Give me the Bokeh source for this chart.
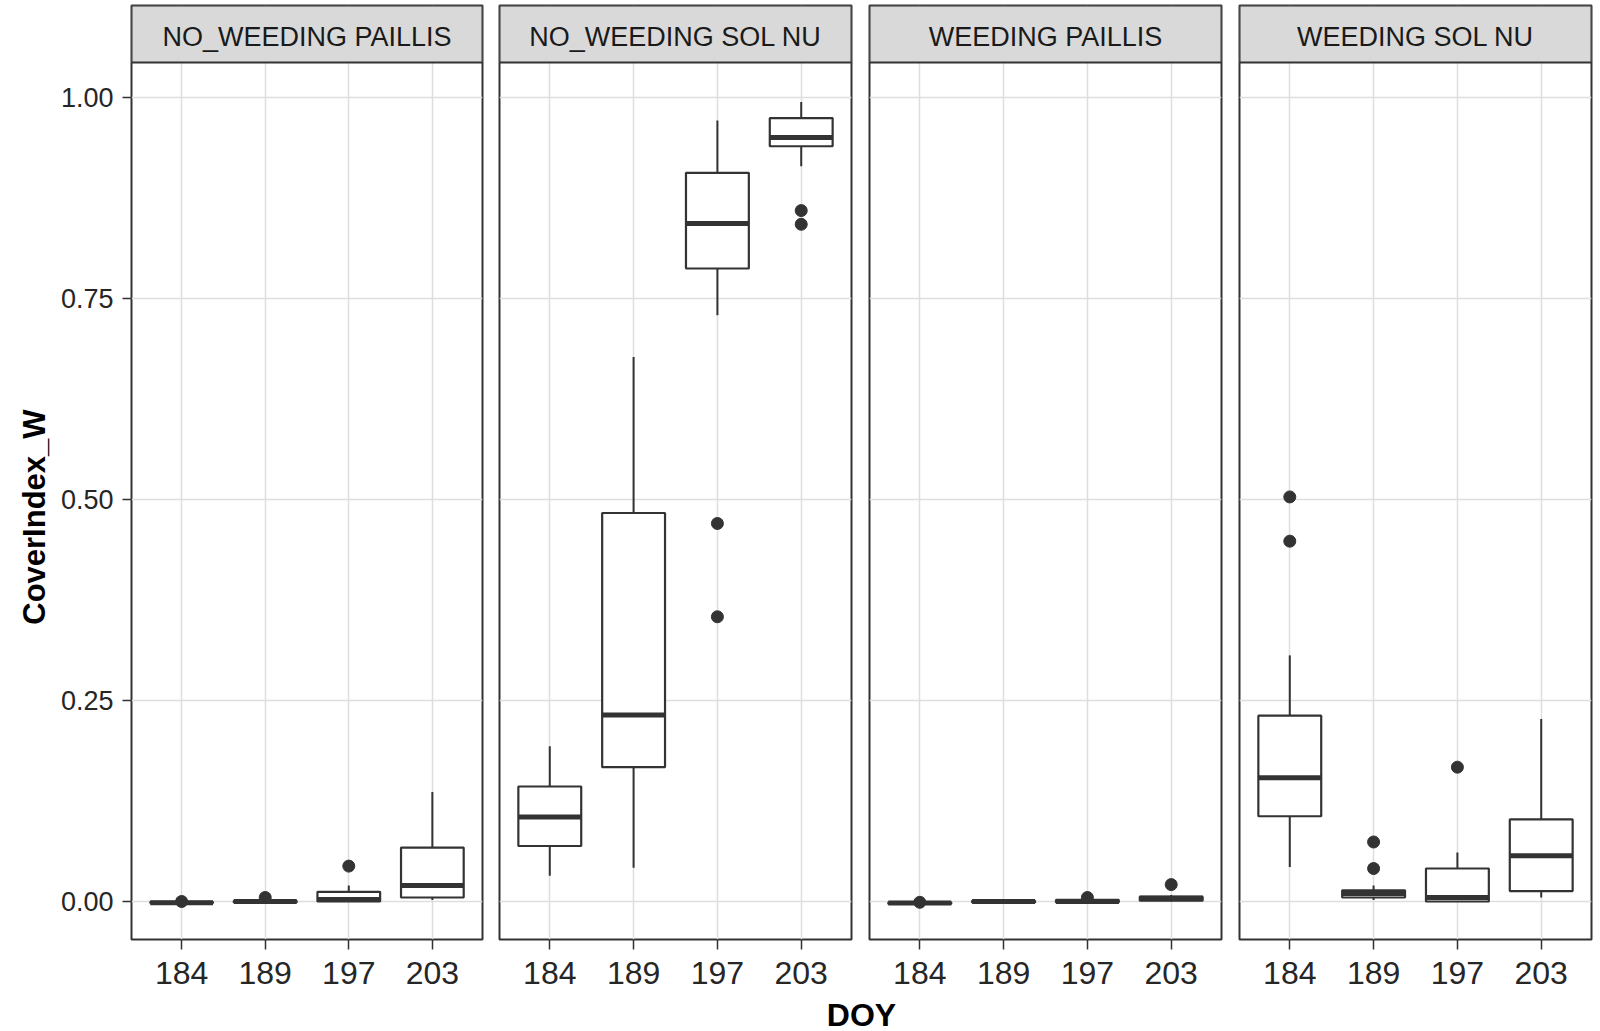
import numpy as np
from bokeh.plotting import figure
from bokeh.models import FactorRange, Range1d, FixedTicker, BoxAnnotation, ColumnDataSource, Label
from bokeh.transform import dodge
from bokeh.layouts import row, column
from bokeh.embed import file_html
from bokeh.resources import INLINE
from bokeh.core.properties import value

# ---------------- data ----------------
DOY = ["184", "189", "197", "203"]
PANELS = ["NO_WEEDING PAILLIS", "NO_WEEDING SOL NU", "WEEDING PAILLIS", "WEEDING SOL NU"]
Y_TICKS = [0.0, 0.25, 0.5, 0.75, 1.0]
Y_TICK_LABELS = ["0.00", "0.25", "0.50", "0.75", "1.00"]
Y_TITLE = "CoverIndex_W"
X_TITLE = "DOY"

# NO_WEEDING PAILLIS
nwp_lower = [-0.003, -0.002, 0.000, 0.002]
nwp_q1 = [-0.002, -0.001, 0.000, 0.005]
nwp_median = [-0.0015, 0.000, 0.0025, 0.020]
nwp_q3 = [-0.0005, 0.001, 0.012, 0.067]
nwp_upper = [0.000, 0.002, 0.020, 0.136]
nwp_outliers = [[0.000], [0.005], [0.044], []]

# NO_WEEDING SOL NU
nws_lower = [0.032, 0.042, 0.729, 0.914]
nws_q1 = [0.069, 0.167, 0.787, 0.939]
nws_median = [0.105, 0.232, 0.843, 0.950]
nws_q3 = [0.143, 0.483, 0.906, 0.974]
nws_upper = [0.193, 0.677, 0.971, 0.994]
nws_outliers = [[], [], [0.470, 0.354], [0.859, 0.842]]

# WEEDING PAILLIS
wp_lower = [-0.003, -0.002, -0.001, 0.000]
wp_q1 = [-0.003, -0.001, -0.001, 0.001]
wp_median = [-0.002, 0.000, 0.000, 0.004]
wp_q3 = [-0.001, 0.001, 0.002, 0.006]
wp_upper = [-0.001, 0.001, 0.003, 0.008]
wp_outliers = [[-0.001], [], [0.005], [0.021]]

# WEEDING SOL NU
ws_lower = [0.043, 0.002, 0.000, 0.005]
ws_q1 = [0.106, 0.005, 0.000, 0.013]
ws_median = [0.154, 0.010, 0.005, 0.057]
ws_q3 = [0.231, 0.014, 0.041, 0.102]
ws_upper = [0.306, 0.020, 0.061, 0.227]
ws_outliers = [[0.503, 0.448], [0.074, 0.041], [0.167], []]

PANEL_DATA = [
    (nwp_lower, nwp_q1, nwp_median, nwp_q3, nwp_upper, nwp_outliers),
    (nws_lower, nws_q1, nws_median, nws_q3, nws_upper, nws_outliers),
    (wp_lower, wp_q1, wp_median, wp_q3, wp_upper, wp_outliers),
    (ws_lower, ws_q1, ws_median, ws_q3, ws_upper, ws_outliers),
]

# ---------------- style / layout ----------------
FONT = "Liberation Sans"
LINE = "#333333"
GRID = "#DEDEDE"
Y0, Y1 = -0.04725, 1.11401          # frame includes strip area
STRIP_BOTTOM = 1.0430
STRIP_TEXT_Y = 1.0751
TOP_H = 995
WIDTHS = [439, 369, 370, 370]
LEFTS = [79, 8, 9, 9]

figs = []
for i, (name, (lo, q1, med, q3, up, outs)) in enumerate(zip(PANELS, PANEL_DATA)):
    p = figure(width=WIDTHS[i], height=TOP_H,
               x_range=FactorRange(factors=DOY, range_padding=0.05),
               y_range=Range1d(Y0, Y1),
               output_backend="svg", toolbar_location=None,
               y_axis_location="left" if i == 0 else None,
               min_border_left=LEFTS[i], min_border_right=9,
               min_border_top=5, min_border_bottom=56)
    p.background_fill_color = "white"
    p.border_fill_color = "white"
    p.outline_line_color = LINE
    p.outline_line_width = 2

    p.xgrid.grid_line_color = GRID
    p.xgrid.grid_line_width = 1.5
    p.ygrid.ticker = FixedTicker(ticks=Y_TICKS)
    p.ygrid.grid_line_color = GRID
    p.ygrid.grid_line_width = 1.5

    xa = p.xaxis[0]
    xa.axis_line_color = None
    xa.major_tick_in = 0
    xa.major_tick_out = 10
    xa.major_tick_line_color = LINE
    xa.major_tick_line_width = 1.5
    xa.major_label_standoff = 12
    xa.major_label_text_font = FONT
    xa.major_label_text_font_size = "32px"
    xa.major_label_text_color = "#262626"

    if i == 0:
        ya = p.yaxis[0]
        ya.ticker = FixedTicker(ticks=Y_TICKS)
        ya.major_label_overrides = {t: l for t, l in zip(Y_TICKS, Y_TICK_LABELS)}
        ya.axis_line_color = None
        ya.major_tick_in = 0
        ya.major_tick_out = 9
        ya.minor_tick_line_color = None
        ya.major_tick_line_color = LINE
        ya.major_tick_line_width = 1.5
        ya.major_label_standoff = 9
        ya.major_label_text_font = FONT
        ya.major_label_text_font_size = "27px"
        ya.major_label_text_color = "#262626"

    src = ColumnDataSource(dict(doy=DOY, lower=lo, q1=q1, med=med, q3=q3, upper=up))
    ox, oy = [], []
    for d, vals in zip(DOY, outs):
        for v in vals:
            ox.append(d)
            oy.append(v)
    osrc = ColumnDataSource(dict(x=ox, y=oy))

    p.scatter(x="x", y="y", source=osrc, size=12, color=LINE)
    p.segment(x0="doy", y0="lower", x1="doy", y1="upper", source=src,
              line_color=LINE, line_width=2)
    p.vbar(x="doy", bottom="q1", top="q3", width=0.75, source=src,
           fill_color="white", line_color=LINE, line_width=2.2)
    p.segment(x0=dodge("doy", -0.375, range=p.x_range), y0="med",
              x1=dodge("doy", 0.375, range=p.x_range), y1="med",
              source=src, line_color=LINE, line_width=5)

    strip = BoxAnnotation(bottom=STRIP_BOTTOM, fill_color="#D9D9D9", fill_alpha=1.0,
                          line_color=LINE, line_width=2, line_alpha=1.0)
    p.add_layout(strip)
    p.add_layout(Label(x=2.0, y=STRIP_TEXT_Y, text=name, text_align="center",
                       text_baseline="middle", text_font=FONT, text_font_size="27px",
                       text_color="#1A1A1A"))
    figs.append(p)

# y-axis title
yt = figure(width=52, height=TOP_H, x_range=Range1d(0, 52), y_range=Range1d(0, TOP_H),
            output_backend="svg", toolbar_location=None,
            x_axis_location=None, y_axis_location=None, min_border=0)
yt.outline_line_color = None
yt.grid.visible = False
yt.text(x=[33.5], y=[TOP_H - 545], text=[Y_TITLE], angle=np.pi / 2,
        text_align="center", text_baseline="middle", text_font=value(FONT),
        text_font_style="bold", text_font_size="31px", text_color="black")

# x-axis title
xt = figure(width=1600, height=36, x_range=Range1d(0, 1600), y_range=Range1d(0, 36),
            output_backend="svg", toolbar_location=None,
            x_axis_location=None, y_axis_location=None, min_border=0)
xt.outline_line_color = None
xt.grid.visible = False
xt.text(x=[861], y=[17], text=[X_TITLE], text_align="center", text_baseline="middle",
        text_font=value(FONT), text_font_style="bold", text_font_size="32px",
        text_color="black")

layout = column(row(yt, *figs, spacing=0), xt, spacing=0)
open("out.html", "w").write(file_html(layout, INLINE))
